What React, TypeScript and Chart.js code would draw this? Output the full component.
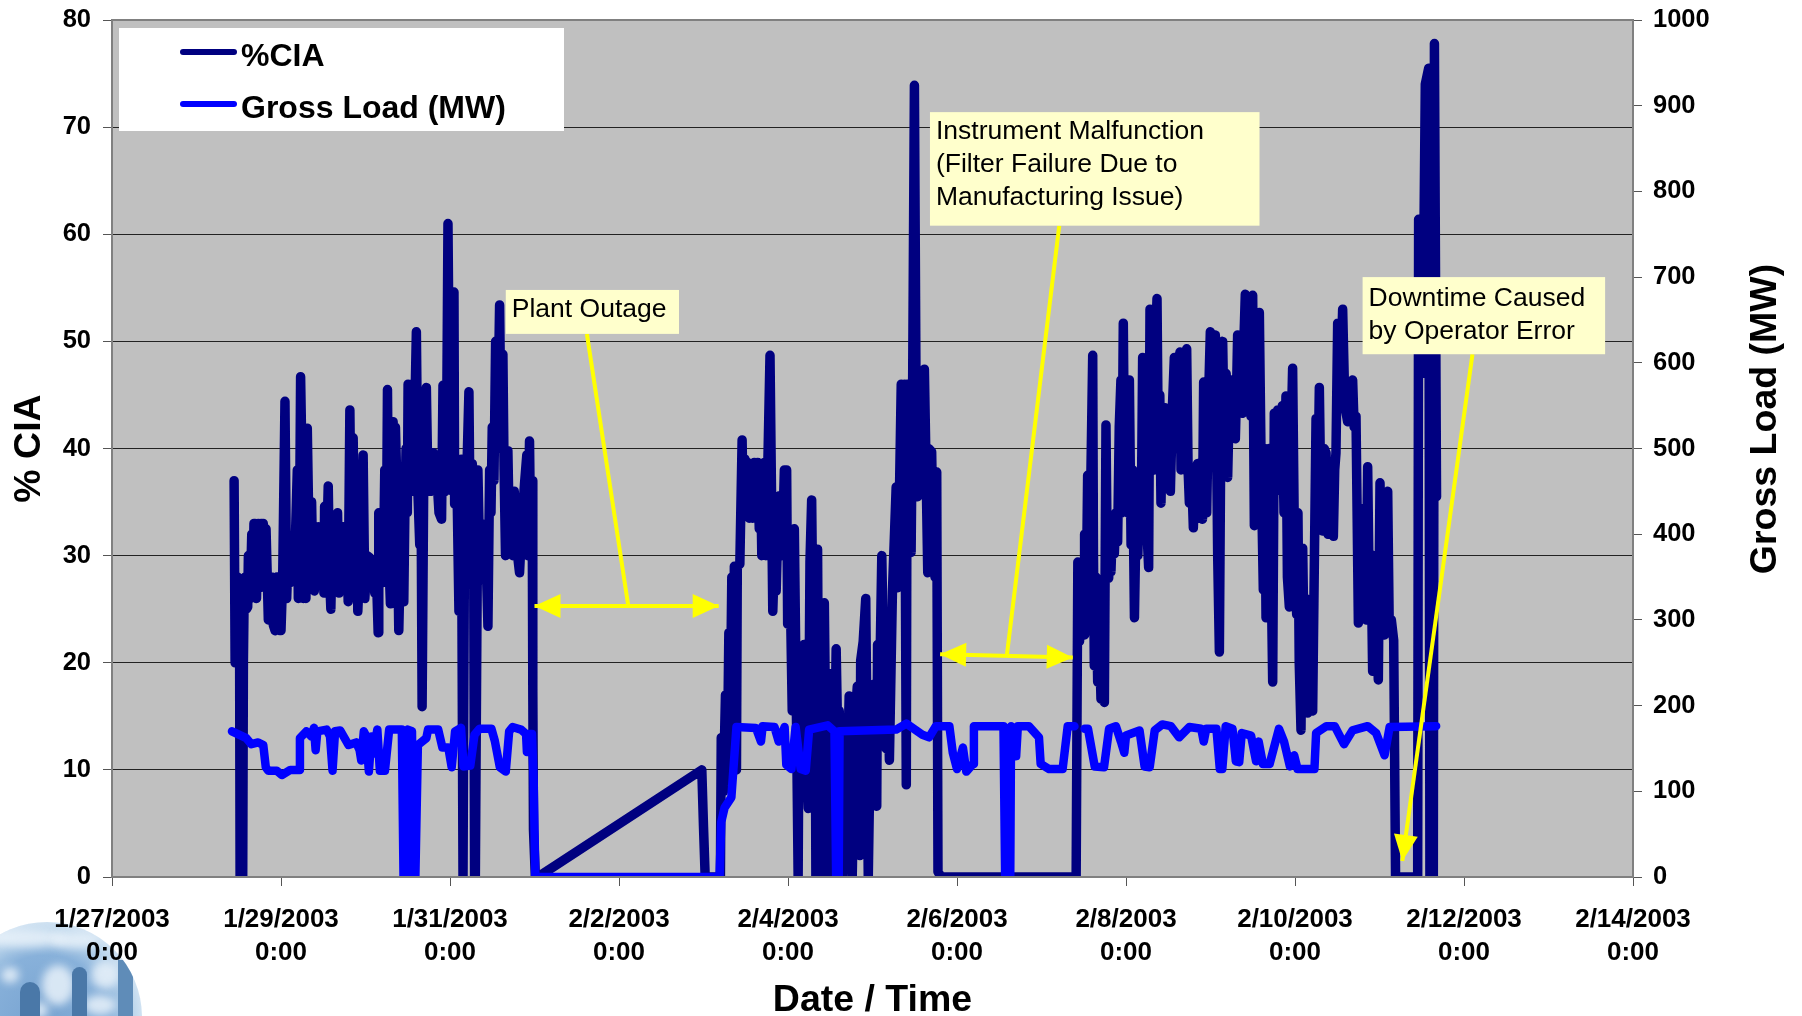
import { useEffect, useRef } from "react";
import { Chart, registerables } from "chart.js";

Chart.register(...registerables);

// x values are days after 1/27/2003 0:00
const xTickLabels = ["1/27/2003", "1/29/2003", "1/31/2003", "2/2/2003", "2/4/2003", "2/6/2003", "2/8/2003", "2/10/2003", "2/12/2003", "2/14/2003"];

const ciaRun1: [number, number][] = [
  [1.445,37],[1.457,20],[1.47,27],[1.484,28],[1.495,21],[1.51,22],[1.516,0],[1.547,0],[1.555,20],[1.565,27],[1.575,28],[1.59,25],[1.606,25.2],[1.614,30],[1.635,26],[1.654,32],[1.668,27],[1.68,33],[1.693,33],[1.71,26],[1.73,33],[1.75,27],[1.765,33],[1.78,28],[1.79,33],[1.81,27],[1.823,32.5],[1.85,24],[1.87,28],[1.89,28],[1.91,23.5],[1.93,23],[1.95,28],[1.97,28],[1.985,23],[2.0,23],[2.02,28],[2.047,44.4],[2.067,26],[2.087,30.6],[2.11,27.5],[2.146,28.5],[2.165,30],[2.193,38],[2.205,26],[2.217,30],[2.232,46.7],[2.25,38],[2.265,26],[2.28,40],[2.295,26],[2.311,41.9],[2.335,30],[2.362,35],[2.38,27],[2.394,26.7],[2.415,32],[2.441,32.7],[2.47,28],[2.49,32],[2.508,26.5],[2.516,34.6],[2.535,29],[2.559,36.5],[2.575,28],[2.59,25],[2.605,31],[2.618,27],[2.64,32],[2.669,34],[2.685,26.5],[2.71,32.7],[2.736,32.7],[2.76,27],[2.78,31],[2.795,25.7],[2.815,43.6],[2.835,28],[2.854,41],[2.875,29],[2.895,33],[2.909,24.8],[2.94,31],[2.972,39.4],[2.992,26],[3.02,30],[3.051,29.8],[3.07,27],[3.09,29],[3.11,26.5],[3.13,28],[3.15,22.8],[3.157,34],[3.175,28],[3.189,31],[3.21,27.5],[3.228,38],[3.245,28],[3.26,45.5],[3.275,30],[3.295,25.5],[3.327,42.5],[3.34,28],[3.354,42],[3.374,35.7],[3.385,28],[3.394,23],[3.41,29],[3.425,28],[3.453,25.7],[3.465,33.4],[3.48,40],[3.495,34],[3.504,46],[3.52,37],[3.54,46],[3.56,36],[3.58,42],[3.602,50.9],[3.62,36],[3.642,31],[3.655,40],[3.67,15.9],[3.69,38],[3.72,45.7],[3.74,36],[3.76,38],[3.78,36],[3.8,39.6],[3.82,36],[3.84,38],[3.87,34],[3.9,33.4],[3.917,45.9],[3.94,36],[3.957,38],[3.976,61],[4.0,38],[4.016,45],[4.03,36],[4.047,54.6],[4.055,34.8],[4.08,38],[4.106,24.8],[4.134,39],[4.154,0],[4.165,0],[4.175,38],[4.2,38],[4.224,45.3],[4.24,31],[4.264,38.6],[4.28,31],[4.291,0],[4.3,0],[4.33,38],[4.35,30],[4.37,33],[4.385,28],[4.398,27.7],[4.42,32],[4.449,23.4],[4.469,38],[4.485,34],[4.5,42],[4.52,37],[4.54,50],[4.56,40],[4.587,53.4],[4.606,40],[4.626,48.8],[4.64,38],[4.657,30],[4.67,38],[4.685,39.8],[4.7,33],[4.725,36],[4.744,30],[4.76,36],[4.783,33],[4.8,30],[4.823,28.4],[4.85,33],[4.882,36.7],[4.909,39.4],[4.921,30],[4.941,40.7],[4.955,31],[4.972,37],[4.98,17.3],[4.988,4.4],[5.01,0],
];
const ciaOutage: [number, number][] = [[5.04,0],[6.98,10],[7.0,4.7],[7.02,0],[7.19,0],[7.2,0]];
const ciaRun2: [number, number][] = [
  [7.21,13],[7.235,8],[7.26,17],[7.28,9],[7.3,22.8],[7.315,14],[7.335,28],[7.35,12],[7.365,29],[7.386,29],[7.39,10],[7.4,29],[7.43,29.2],[7.457,40.8],[7.47,34],[7.49,39],[7.505,34],[7.52,38.7],[7.54,33.5],[7.56,38],[7.58,33.5],[7.6,38.7],[7.62,33.5],[7.64,38.7],[7.66,32.5],[7.675,38],[7.69,30],[7.705,38],[7.72,38.7],[7.74,30],[7.787,48.7],[7.82,24.8],[7.84,30],[7.86,26.7],[7.88,33],[7.9,35.6],[7.93,30],[7.957,38],[7.984,38],[7.996,23.6],[8.02,30],[8.05,15.5],[8.075,32.5],[8.1,15],[8.12,0],[8.134,21.3],[8.16,15],[8.19,21.7],[8.215,12],[8.24,6.4],[8.26,29.4],[8.28,35.2],[8.3,20],[8.32,22],[8.33,0],[8.35,30.6],[8.37,0],[8.39,18],[8.41,0],[8.43,25.6],[8.45,10],[8.47,0],[8.49,19],[8.51,8],[8.53,0],[8.57,21.3],[8.59,12],[8.606,15.5],[8.63,8],[8.646,0],[8.665,12],[8.685,3],[8.724,16.9],[8.74,8],[8.76,0],[8.79,14],[8.82,17.8],[8.85,2],[8.86,20.2],[8.89,22],[8.92,26],[8.95,0],[8.98,15.9],[9.015,18],[9.05,6.6],[9.06,21.7],[9.085,18],[9.11,30],[9.135,18],[9.16,12],[9.18,20],[9.2,10.9],[9.236,26.7],[9.28,36.4],[9.3,27],[9.32,36.3],[9.34,46],[9.36,30],[9.38,46],[9.4,8.6],[9.41,46],[9.437,46],[9.457,30.3],[9.475,46],[9.496,73.9],[9.515,46],[9.535,35.5],[9.555,45],[9.575,46],[9.59,36],[9.614,47.4],[9.63,40],[9.654,28.4],[9.665,40],[9.7,39.7],[9.72,30],[9.74,28],[9.76,37.8],[9.775,0.5],[9.81,0],[11.405,0],
];
const ciaRun3: [number, number][] = [
  [11.43,29.4],[11.45,22],[11.47,29],[11.507,22.6],[11.51,32],[11.53,26],[11.546,37.5],[11.57,30],[11.606,48.7],[11.615,30],[11.625,19.7],[11.645,28],[11.665,18.2],[11.68,24],[11.704,16.6],[11.72,22],[11.744,16.3],[11.763,42.2],[11.78,28],[11.795,27.9],[11.81,33],[11.822,28.5],[11.84,32.8],[11.862,30.2],[11.88,34],[11.901,31.3],[11.92,42],[11.94,46.4],[11.95,34],[11.968,51.7],[11.985,36],[12,44],[12.02,34],[12.04,46.4],[12.06,31],[12.08,38],[12.1,24.2],[12.126,36.8],[12.14,30],[12.158,36],[12.18,33],[12.197,48.5],[12.215,34],[12.235,47],[12.25,32],[12.268,28.9],[12.284,53],[12.3,38],[12.32,46],[12.335,38],[12.35,50],[12.367,54],[12.385,38],[12.4,45],[12.414,34.9],[12.435,43],[12.465,43.8],[12.485,37],[12.505,42],[12.525,36],[12.55,44],[12.572,48.5],[12.59,40],[12.615,46],[12.639,49],[12.651,38],[12.67,46],[12.695,38],[12.718,49.3],[12.735,38],[12.75,34.9],[12.775,38],[12.797,32.6],[12.82,38],[12.848,38.6],[12.865,33.5],[12.888,37],[12.905,33.4],[12.919,46.2],[12.935,36],[12.955,34],[12.975,44],[12.998,50.9],[13.015,44],[13.035,50],[13.057,50.6],[13.07,42],[13.085,30],[13.105,21],[13.125,45],[13.144,50],[13.165,40],[13.185,47],[13.203,37.3],[13.225,45],[13.254,46.4],[13.275,41],[13.294,40.9],[13.31,46],[13.321,50.6],[13.35,44],[13.38,43.3],[13.395,50],[13.412,54.4],[13.43,46],[13.455,52],[13.479,43],[13.499,54.3],[13.519,32.8],[13.54,48],[13.56,40],[13.578,52.7],[13.6,38],[13.625,26.8],[13.64,40],[13.657,24.2],[13.68,34],[13.696,40],[13.715,30],[13.736,18.2],[13.755,43.3],[13.775,36],[13.795,43.6],[13.815,38],[13.834,39],[13.85,44],[13.87,34],[13.893,44.9],[13.91,28],[13.933,25.2],[13.95,40],[13.972,47.5],[13.995,30],[14.02,24.5],[14.035,34],[14.05,20],[14.071,13.7],[14.091,30.7],[14.11,20],[14.13,26],[14.15,15.3],[14.17,24],[14.19,16],[14.209,15.5],[14.23,30],[14.249,42.8],[14.27,36],[14.288,45.7],[14.31,33],[14.327,32.3],[14.345,40],[14.367,39.6],[14.39,32],[14.42,38],[14.454,31.8],[14.47,38],[14.485,39.6],[14.505,51.7],[14.535,45],[14.564,53],[14.59,44],[14.623,42.5],[14.65,46],[14.682,46.4],[14.7,42],[14.722,43],[14.75,23.7],[14.781,34.4],[14.8,28],[14.82,29.4],[14.84,24],[14.86,38.3],[14.88,25.5],[14.9,30],[14.919,19.2],[14.935,30],[14.95,29.5],[14.97,22],[14.986,18.4],[15.006,36.8],[15.03,26],[15.057,22.6],[15.075,30],[15.097,36],[15.116,22.9],[15.14,24],[15.168,22.1],[15.19,0],[15.215,0],[15.452,0],[15.463,61.4],[15.511,47],[15.542,74],[15.582,75.5],[15.597,0],[15.637,0],[15.65,77.8],[15.675,35.5],
];

const loadRun1: [number, number][] = [
  [1.42,170],[1.59,162],[1.65,155],[1.73,157],[1.79,154],[1.82,128],[1.85,124],[1.95,124],[2.01,119],[2.11,125],[2.22,125],[2.224,162],[2.3,170],[2.36,164],[2.39,174],[2.41,148],[2.43,170],[2.54,172],[2.58,164],[2.61,124],[2.64,170],[2.7,171],[2.8,154],[2.89,157],[2.93,148],[2.95,136],[2.98,170],[3.01,164],[3.04,123],[3.07,164],[3.09,144],[3.14,172],[3.17,124],[3.23,124],[3.28,172],[3.37,172],[3.43,172],[3.45,0],[3.47,0],[3.5,172],[3.55,170],[3.57,0],[3.59,0],[3.62,154],[3.72,162],[3.74,172],[3.86,172],[3.91,151],[3.98,151],[4.02,128],[4.06,170],[4.13,174],[4.16,129],[4.24,130],[4.29,166],[4.35,173],[4.49,173],[4.53,159],[4.59,128],[4.66,123],[4.7,170],[4.74,175],[4.84,172],[4.9,167],[4.91,146],[4.94,167],[4.97,167],[4.99,113],[5.01,0],[7.19,0],
];
const loadRun2: [number, number][] = [
  [7.21,64],[7.25,81],[7.33,93],[7.39,175],[7.62,174],[7.68,158],[7.7,176],[7.84,175],[7.89,158],[7.96,175],[7.98,131],[8.04,126],[8.09,175],[8.15,126],[8.21,124],[8.25,172],[8.47,177],[8.55,170],[8.57,0],[8.6,0],[8.61,170],[9.28,172],[9.4,179],[9.59,166],[9.67,163],[9.75,176],[9.91,176],[9.95,145],[10.0,126],[10.07,151],[10.11,123],[10.19,132],[10.2,176],[10.5,176],[10.55,176],[10.57,0],[10.63,0],[10.64,176],[10.7,141],[10.72,176],[10.85,176],[10.97,163],[10.99,132],[11.09,126],[11.25,126],[11.31,176],[11.39,176],
];
const loadRun3: [number, number][] = [
  [11.51,173],[11.55,173],[11.63,129],[11.74,128],[11.8,173],[11.88,176],[11.94,158],[11.98,145],[12.0,165],[12.16,171],[12.22,129],[12.28,128],[12.34,171],[12.43,178],[12.53,176],[12.63,163],[12.75,175],[12.89,173],[12.92,158],[12.95,173],[13.07,173],[13.11,126],[13.14,126],[13.18,176],[13.26,173],[13.3,135],[13.34,134],[13.37,168],[13.48,165],[13.54,135],[13.57,158],[13.62,132],[13.7,132],[13.81,173],[13.87,158],[13.94,129],[13.99,142],[14.03,126],[14.23,126],[14.25,168],[14.37,176],[14.47,176],[14.58,155],[14.68,171],[14.86,176],[14.96,168],[15.06,142],[15.12,175],[15.67,176],
];

const seriesNames = ["%CIA", "Gross Load (MW)"];
const seriesColors = ["#000080", "#0000FF"];

// annotation boxes, in axis units (days, % CIA)
const noteBoxes = [
  { lines: ["Plant Outage"], x0: 4.66, x1: 6.71, top: 54.8, bottom: 50.7, textShift: -2 },
  { lines: ["Instrument Malfunction", "(Filter Failure Due to", "Manufacturing Issue)"], x0: 9.68, x1: 13.58, top: 71.4, bottom: 60.8, textShift: -4 },
  { lines: ["Downtime Caused", "by Operator Error"], x0: 14.8, x1: 17.67, top: 56, bottom: 48.8, textShift: 0 },
];
const doubleArrows = [
  { x0: 5.0, y0: 25.3, x1: 7.18, y1: 25.3 },
  { x0: 9.8, y0: 20.8, x1: 11.37, y1: 20.5 },
];
const leaders = [
  { x0: 5.62, y0: 50.7, x1: 6.11, y1: 25.3 },
  { x0: 11.21, y0: 60.8, x1: 10.59, y1: 20.7 },
];
const singleArrows = [{ x0: 16.1, y0: 48.8, x1: 15.27, y1: 1.5 }];

const toXY = (run: [number, number][]) => run.map(([x, y]) => ({ x, y }));
const ciaData = toXY([...ciaRun1, ...ciaOutage, ...ciaRun2, [11.41, 0], ...ciaRun3]);
const loadData = [...toXY(loadRun1), ...toXY(loadRun2), { x: 11.45, y: null }, ...toXY(loadRun3)];

const FONT = '"Liberation Sans", Arial, sans-serif';

function arrowHead(ctx: CanvasRenderingContext2D, px: number, py: number, fromX: number, fromY: number, len: number, half: number) {
  const a = Math.atan2(py - fromY, px - fromX);
  ctx.save();
  ctx.translate(px, py);
  ctx.rotate(a);
  ctx.beginPath();
  ctx.moveTo(0, 0);
  ctx.lineTo(-len, -half);
  ctx.lineTo(-len, half);
  ctx.closePath();
  ctx.fill();
  ctx.restore();
}

function drawLogo(ctx: CanvasRenderingContext2D) {
  const cx = 47, cy = 1017, r = 95;
  ctx.save();
  ctx.beginPath();
  ctx.arc(cx, cy, r, 0, Math.PI * 2);
  ctx.clip();
  const g = ctx.createRadialGradient(cx - 5, cy + 10, 10, cx, cy, r);
  g.addColorStop(0, "#7AA5D2");
  g.addColorStop(0.65, "#88B1DA");
  g.addColorStop(0.9, "#BCD6EC");
  g.addColorStop(1, "#D0E2F2");
  ctx.fillStyle = g;
  ctx.fillRect(cx - r, cy - r, r * 2, r * 2);
  ctx.filter = "blur(4px)";
  ctx.fillStyle = "rgba(232,241,249,0.85)";
  for (const [ex, ey, rx, ry] of [[25, 938, 42, 9], [75, 940, 24, 8], [58, 985, 16, 20], [105, 975, 14, 14], [100, 1005, 16, 10], [10, 975, 9, 8], [40, 1010, 8, 8]]) {
    ctx.beginPath();
    ctx.ellipse(ex, ey, rx, ry, 0, 0, Math.PI * 2);
    ctx.fill();
  }
  ctx.filter = "none";
  ctx.fillStyle = "#4A78A8";
  for (const [x, y, w] of [[20, 982, 20], [72, 967, 15]]) {
    ctx.beginPath();
    ctx.moveTo(x, 1016);
    ctx.lineTo(x, y + w / 2);
    ctx.arc(x + w / 2, y + w / 2, w / 2, Math.PI, 0);
    ctx.lineTo(x + w, 1016);
    ctx.closePath();
    ctx.fill();
  }
  ctx.fillStyle = "#5F8CB8";
  ctx.fillRect(118, 960, 15, 56);
  ctx.restore();
}

const decorPlugin = {
  id: "decor",
  beforeDraw(chart: any) {
    const { ctx, chartArea: a } = chart;
    ctx.save();
    ctx.fillStyle = "#FFFFFF";
    ctx.fillRect(0, 0, chart.width, chart.height);
    drawLogo(ctx);
    ctx.fillStyle = "#C0C0C0";
    ctx.fillRect(a.left, a.top, a.right - a.left, a.bottom - a.top);
    ctx.restore();
  },
  afterDatasetsDraw(chart: any) {
    const { ctx, chartArea: a, scales } = chart;
    const X = (v: number) => scales.x.getPixelForValue(v);
    const Y = (v: number) => scales.y.getPixelForValue(v);
    ctx.save();
    ctx.strokeStyle = "#808080";
    ctx.lineWidth = 2;
    ctx.strokeRect(a.left, a.top, a.right - a.left, a.bottom - a.top);

    ctx.strokeStyle = "#FFFF00";
    ctx.fillStyle = "#FFFF00";
    ctx.lineWidth = 4;
    for (const l of leaders) {
      ctx.beginPath();
      ctx.moveTo(X(l.x0), Y(l.y0));
      ctx.lineTo(X(l.x1), Y(l.y1));
      ctx.stroke();
    }
    for (const d of doubleArrows) {
      ctx.beginPath();
      ctx.moveTo(X(d.x0), Y(d.y0));
      ctx.lineTo(X(d.x1), Y(d.y1));
      ctx.stroke();
      arrowHead(ctx, X(d.x0), Y(d.y0), X(d.x1), Y(d.y1), 26, 12);
      arrowHead(ctx, X(d.x1), Y(d.y1), X(d.x0), Y(d.y0), 26, 12);
    }
    for (const s of singleArrows) {
      ctx.beginPath();
      ctx.moveTo(X(s.x0), Y(s.y0));
      ctx.lineTo(X(s.x1), Y(s.y1));
      ctx.stroke();
      arrowHead(ctx, X(s.x1), Y(s.y1), X(s.x0), Y(s.y0), 26, 12);
    }
    ctx.font = `26.5px ${FONT}`;
    ctx.textBaseline = "middle";
    ctx.textAlign = "left";
    for (const b of noteBoxes) {
      const x0 = X(b.x0), x1 = X(b.x1), t = Y(b.top), bt = Y(b.bottom);
      ctx.fillStyle = "#FFFFCC";
      ctx.fillRect(x0, t, x1 - x0, bt - t);
      ctx.fillStyle = "#000";
      const lh = 33;
      const y0 = (t + bt) / 2 - ((b.lines.length - 1) * lh) / 2 + b.textShift;
      b.lines.forEach((s, i) => ctx.fillText(s, x0 + 6, y0 + i * lh));
    }
    ctx.restore();
  },
  afterDraw(chart: any) {
    const { ctx } = chart;
    ctx.save();
    // legend
    ctx.fillStyle = "#FFFFFF";
    ctx.fillRect(119, 28, 445, 103);
    ctx.lineCap = "round";
    ctx.lineWidth = 6;
    ctx.font = `bold 32px ${FONT}`;
    ctx.textBaseline = "middle";
    ctx.textAlign = "left";
    seriesNames.forEach((name, i) => {
      const y = 52 + i * 52;
      ctx.strokeStyle = seriesColors[i];
      ctx.beginPath();
      ctx.moveTo(183, y);
      ctx.lineTo(234, y);
      ctx.stroke();
      ctx.fillStyle = "#000";
      ctx.fillText(name, 241, y + 5);
    });
    // right axis title reads bottom to top
    ctx.translate(1766, 419);
    ctx.rotate(-Math.PI / 2);
    ctx.textAlign = "center";
    ctx.font = `bold 37.5px ${FONT}`;
    ctx.fillText(chart.options.scales.y1.title.text, 0, 0);
    ctx.restore();
  },
};

const noOverhangY = (w: number) => (s: any) => { s.width = w; s.paddingTop = 0; s.paddingBottom = 0; };

export default function App() {
  const ref = useRef<HTMLCanvasElement>(null);
  useEffect(() => {
    document.body.style.margin = "0";
    const chart = new Chart(ref.current!, {
      type: "line",
      data: {
        datasets: [
          { label: seriesNames[0], data: ciaData, yAxisID: "y", borderColor: seriesColors[0], order: 2, borderWidth: 9.5 },
          { label: seriesNames[1], data: loadData, yAxisID: "y1", borderColor: seriesColors[1], order: 1, borderWidth: 8.5 },
        ].map((d) => ({
          ...d,
          parsing: false,
          pointRadius: 0,
          tension: 0,
          borderCapStyle: "round",
          borderJoinStyle: "round",
          spanGaps: false,
          fill: false,
        })) as any,
      },
      options: {
        animation: false,
        responsive: false,
        layout: { padding: { top: 20, left: 0, right: 0, bottom: 0 } },
        plugins: { legend: { display: false }, tooltip: { enabled: false } },
        scales: {
          x: {
            type: "linear",
            min: 0,
            max: 18,
            afterFit: (s: any) => { s.height = 139; s.paddingLeft = 0; s.paddingRight = 0; },
            grid: { drawOnChartArea: false, drawTicks: true, tickLength: 9, color: "#555", lineWidth: 1 },
            border: { color: "#808080", width: 2 },
            ticks: {
              stepSize: 2,
              autoSkip: false,
              maxRotation: 0,
              padding: 17,
              color: "#000",
              font: { family: FONT, weight: "bold", size: 26, lineHeight: 1.29 },
              callback: (v: any) => [xTickLabels[Math.round(Number(v) / 2)], "0:00"],
            },
            title: { display: true, text: "Date / Time", color: "#000", font: { family: FONT, weight: "bold", size: 37.5, lineHeight: 1 }, padding: { top: 0, bottom: -3 } },
          },
          y: {
            position: "left",
            min: 0,
            max: 80,
            afterFit: noOverhangY(112),
            grid: { color: "#222", lineWidth: 1, tickLength: 9, tickColor: "#555" },
            border: { color: "#808080", width: 2 },
            ticks: { stepSize: 10, padding: 12, color: "#000", font: { family: FONT, weight: "bold", size: 25.5 } },
            title: { display: true, text: "% CIA", color: "#000", font: { family: FONT, weight: "bold", size: 37.5, lineHeight: 1 }, padding: { top: 11, bottom: 0 } },
          },
          y1: {
            position: "right",
            min: 0,
            max: 1000,
            afterFit: noOverhangY(169),
            grid: { drawOnChartArea: false, tickLength: 9, tickColor: "#555" },
            border: { color: "#808080", width: 2 },
            ticks: { stepSize: 100, padding: 11, color: "#000", font: { family: FONT, weight: "bold", size: 25.5 }, callback: (v: any) => String(v) },
            title: { display: false, text: "Gross Load (MW)" },
          },
        },
      } as any,
      plugins: [decorPlugin as any],
    });
    return () => chart.destroy();
  }, []);
  return (
    <div style={{ position: "fixed", left: 0, top: 0, width: 1802, height: 1016 }}>
      <canvas ref={ref} width={1802} height={1016} style={{ display: "block" }} />
    </div>
  );
}
